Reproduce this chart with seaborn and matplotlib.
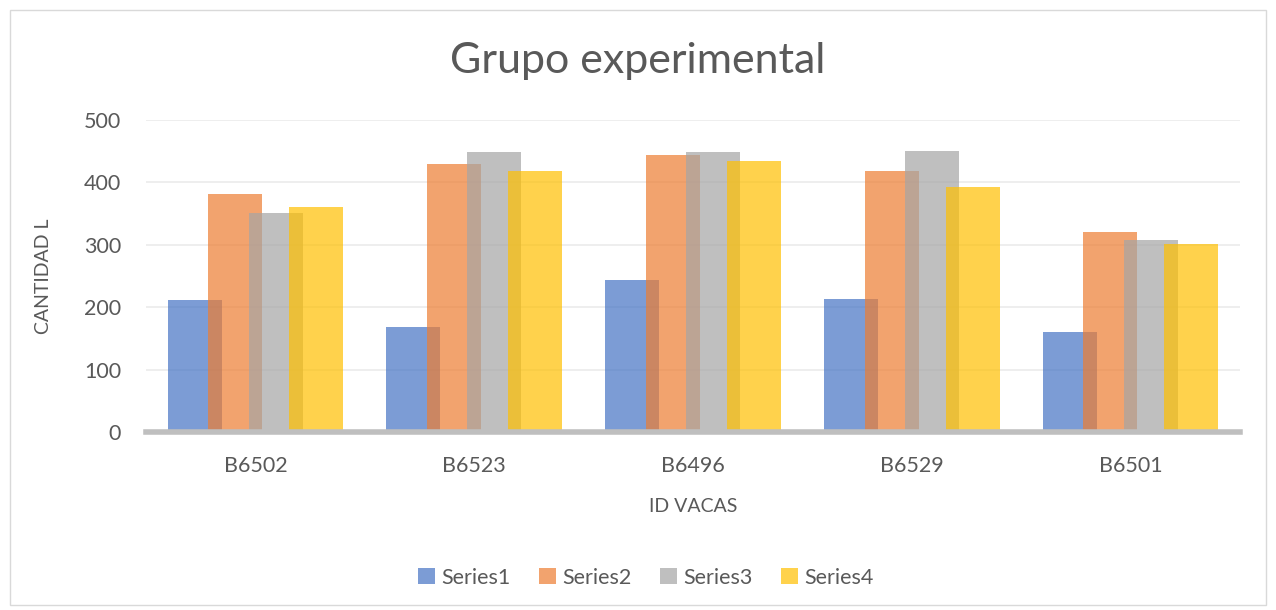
import numpy as np
import pandas as pd
import seaborn as sns
import matplotlib.pyplot as plt
from matplotlib.patches import Rectangle

vacas = ['B6502', 'B6523', 'B6496', 'B6529', 'B6501']
series1 = [211, 169, 243, 213, 161]
series2 = [382, 430, 444, 419, 321]
series3 = [351, 449, 449, 450, 307]
series4 = [361, 418, 434, 393, 301]
series_names = ['Series1', 'Series2', 'Series3', 'Series4']
colors = ['#4472C4', '#ED7D31', '#A5A5A5', '#FFC000']

df = pd.DataFrame({'ID': vacas, 'Series1': series1, 'Series2': series2,
                   'Series3': series3, 'Series4': series4})
long_df = df.melt(id_vars='ID', var_name='serie', value_name='cantidad')

sns.set_style('white')
plt.rcParams['font.family'] = ['Lato', 'DejaVu Sans']

fig = plt.figure(figsize=(12.76, 6.10), dpi=100)
ax = fig.add_axes([0.1144, 0.2918, 0.8574, 0.5115])

sns.barplot(data=long_df, x='ID', y='cantidad', hue='serie', order=vacas,
            hue_order=series_names, palette=colors, width=0.74, alpha=0.7,
            saturation=1, ax=ax, legend=True)

# Excel-style overlapping bars: widen each bar around its own centre
new_w = 0.247
for p in ax.patches:
    c = p.get_x() + p.get_width() / 2
    p.set_width(new_w)
    p.set_x(c - new_w / 2)
    p.set_linewidth(0)

ax.set_ylim(0, 500)
ax.set_xlim(-0.5, len(vacas) - 0.5)
ax.set_yticks([0, 100, 200, 300, 400, 500])
ax.yaxis.grid(True, color='#EBEBEB', linewidth=1.2)
ax.set_axisbelow(True)
for s in ['top', 'right', 'left']:
    ax.spines[s].set_visible(False)
ax.spines['bottom'].set_color('#BFBFBF')
ax.spines['bottom'].set_linewidth(4)

ax.tick_params(axis='y', length=0, pad=18, labelsize=15.5, labelcolor='#595959')
ax.tick_params(axis='x', length=0, pad=17, labelsize=15.5, labelcolor='#595959')
ax.set_xlabel('ID VACAS', fontsize=14, color='#595959', labelpad=16)
ax.set_ylabel('CANTIDAD L', fontsize=14, color='#595959', labelpad=23)

fig.text(0.5, 0.9, 'Grupo experimental', ha='center', va='center',
         fontsize=31, color='#595959')

handles, labels = ax.get_legend_handles_labels()
ax.get_legend().remove()
fig.legend(handles, labels, loc='center', bbox_to_anchor=(0.506, 0.053), ncol=4,
           frameon=False, fontsize=15.5, handlelength=0.8, handleheight=0.8,
           handletextpad=0.3, columnspacing=1.3, labelcolor='#595959')

fig.patches.append(Rectangle((0.008, 0.008), 0.984, 0.975, transform=fig.transFigure,
                             fill=False, edgecolor='#D9D9D9', linewidth=1))

fig.savefig('out.png', dpi=100)
